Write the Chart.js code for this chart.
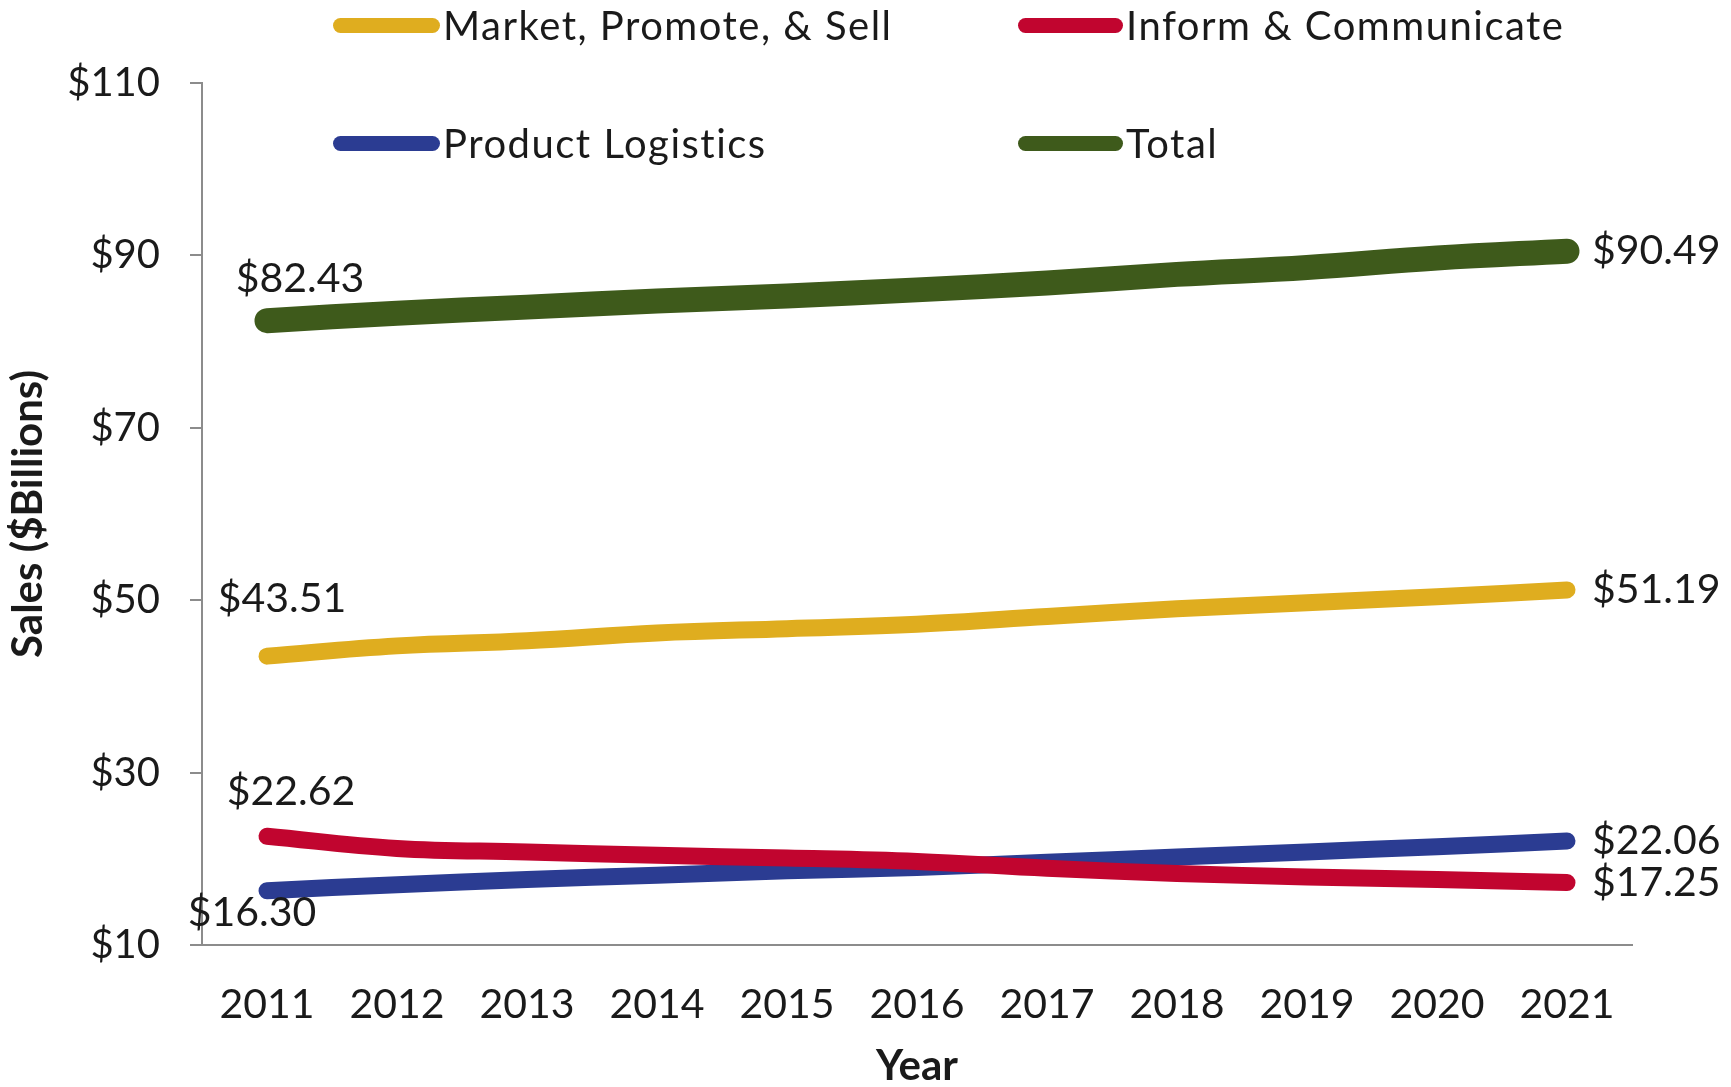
<!DOCTYPE html>
<html lang="en">
<head>
    <meta charset="UTF-8">
    <title>Sales by Segment</title>
    <script src="https://cdn.jsdelivr.net/npm/chart.js"></script>
    <style>
        body {
            margin: 0;
            background: #fff;
            font-family: Lato, sans-serif;
        }

        .wrap {
            position: relative;
            width: 1731px;
            height: 1087px;
        }

        .legenda div.item {
            position: absolute;
            display: flex;
            align-items: center;
            font-size: 40px;
            letter-spacing: 1.5px;
            color: #1a1a1a;
            white-space: nowrap;
        }

        .legenda span.simbolo {
            display: inline-block;
            height: 15px;
            border-radius: 8px;
            margin-right: 3px;
        }
    </style>
</head>
<body>

<div class="wrap">
    <canvas id="grafico" width="1731" height="1087"></canvas>
    <div class="legenda" id="legenda"></div>
</div>

<script>
    const anos = ["2011", "2012", "2013", "2014", "2015", "2016", "2017", "2018", "2019", "2020", "2021"];

    const series = ["Market, Promote, & Sell", "Inform & Communicate", "Product Logistics", "Total"];

    const market = [43.51, 44.7, 45.3, 46.2, 46.7, 47.2, 48.1, 49.0, 49.7, 50.4, 51.19];
    const inform = [22.62, 21.2, 20.8, 20.4, 20.1, 19.7, 18.9, 18.3, 17.9, 17.6, 17.25];
    const logistics = [16.30, 17.0, 17.6, 18.1, 18.6, 19.0, 19.6, 20.2, 20.8, 21.4, 22.06];
    const total = [82.43, 83.3, 84.0, 84.7, 85.3, 86.0, 86.8, 87.8, 88.6, 89.7, 90.49];

    const yTicks = [10, 30, 50, 70, 90, 110];

    const cores = ["#dfad1f", "#c1052f", "#2b3c92", "#3e5a1b"];
    const espessuras = [17, 17, 17, 25];

    // label offsets for the first point of each series: [dx, dy]
    const offsetInicio = [[15, -57], [24, -44], [-15, 22], [33, -42]];

    const fmt = v => "$" + v.toFixed(2);

    const rotulosPlugin = {
        id: "rotulos",
        afterDatasetsDraw(chart) {
            const ctx = chart.ctx;
            ctx.save();
            ctx.font = "41px Lato";
            ctx.fillStyle = "#1a1a1a";
            chart.data.datasets.forEach((ds, i) => {
                const pts = chart.getDatasetMeta(i).data;
                const p0 = pts[0];
                const pN = pts[pts.length - 1];
                ctx.textAlign = "center";
                ctx.textBaseline = "middle";
                ctx.fillText(fmt(ds.data[0]), p0.x + offsetInicio[i][0], p0.y + offsetInicio[i][1]);
                ctx.textAlign = "left";
                ctx.fillText(fmt(ds.data[ds.data.length - 1]), pN.x + 25, pN.y);
            });
            ctx.restore();
        }
    };

    const dadosSeries = [market, inform, logistics, total];

    const chart = new Chart(document.getElementById("grafico"), {
        type: "line",
        data: {
            labels: anos,
            datasets: series.map((nome, i) => ({
                label: nome,
                data: dadosSeries[i],
                borderColor: cores[i],
                backgroundColor: cores[i],
                borderWidth: espessuras[i],
                borderCapStyle: "round",
                borderJoinStyle: "round",
                pointRadius: 0,
                tension: 0.4,
                clip: false
            }))
        },
        options: {
            responsive: false,
            animation: false,
            layout: { padding: { top: 83, right: 99, left: 0, bottom: 0 } },
            plugins: {
                legend: { display: false },
                tooltip: { enabled: false }
            },
            scales: {
                x: {
                    offset: true,
                    grid: { display: false, drawTicks: false },
                    border: { display: true, color: "#8c8c8c", width: 2 },
                    ticks: {
                        color: "#1a1a1a",
                        font: { family: "Lato", size: 41 },
                        padding: 35,
                        maxRotation: 0
                    },
                    title: {
                        display: true,
                        text: "Year",
                        color: "#1a1a1a",
                        font: { family: "Lato", size: 42, weight: "bold", lineHeight: 1 },
                        padding: { top: 0, bottom: 0 }
                    },
                    afterFit: s => { s.height = 142; }
                },
                y: {
                    min: 10,
                    max: 110,
                    afterBuildTicks: s => { s.ticks = yTicks.map(v => ({ value: v })); },
                    grid: {
                        display: true,
                        drawOnChartArea: false,
                        drawTicks: true,
                        tickLength: 12,
                        color: "#8c8c8c",
                        lineWidth: 2
                    },
                    border: { display: true, color: "#8c8c8c", width: 2 },
                    ticks: {
                        color: "#1a1a1a",
                        font: { family: "Lato", size: 40 },
                        padding: 30,
                        callback: v => "$" + v
                    },
                    title: {
                        display: true,
                        text: "Sales ($Billions)",
                        color: "#1a1a1a",
                        font: { family: "Lato", size: 42, weight: "bold", lineHeight: 1 },
                        padding: { top: 7, bottom: 0 }
                    },
                    afterFit: s => { s.width = 202; }
                }
            }
        },
        plugins: [rotulosPlugin]
    });

    // legend in two columns, like the original
    const posLegenda = [[333, 25, 107], [1018, 25, 105], [333, 143, 107], [1018, 143, 105]];
    const legenda = document.getElementById("legenda");
    series.forEach((nome, i) => {
        const div = document.createElement("div");
        div.className = "item";
        div.style.left = posLegenda[i][0] + "px";
        div.style.top = (posLegenda[i][1] - 24) + "px";
        div.style.height = "48px";
        div.innerHTML = `<span class="simbolo" style="width:${posLegenda[i][2]}px;background:${cores[i]}"></span>${nome}`;
        legenda.appendChild(div);
    });
</script>

</body>
</html>
